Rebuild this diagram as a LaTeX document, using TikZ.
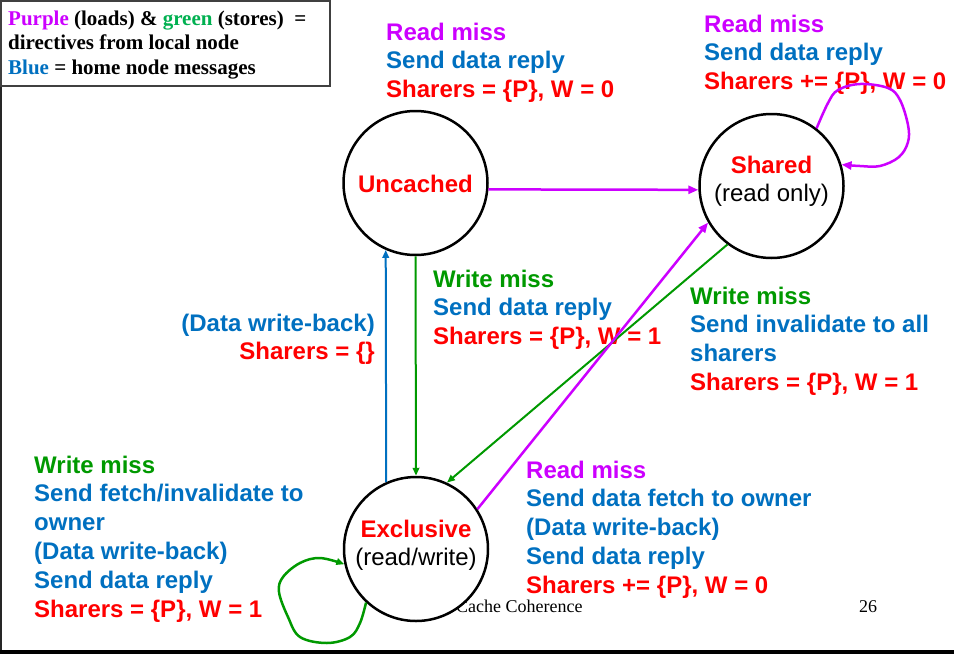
\documentclass[tikz,border=0pt]{standalone}
\usepackage{fontspec}
\setmainfont{Liberation Serif}
\newfontfamily\arialf{Liberation Sans}
\usetikzlibrary{arrows.meta}
\definecolor{cpurple}{RGB}{204,0,255}
\definecolor{cblue}{RGB}{0,112,192}
\definecolor{cred}{RGB}{255,0,0}
\definecolor{cgreen}{RGB}{0,153,0}
\definecolor{lgreen}{RGB}{0,176,80}
\newcommand\labfont{\arialf\bfseries\fontsize{24}{28.8}\selectfont}
\newcommand\plainfont{\arialf\fontsize{24}{28.8}\selectfont}
\newcommand\legfont{\bfseries\fontsize{21}{24.5}\selectfont}
\newcommand\footfont{\fontsize{18}{21}\selectfont}
\newcommand\blockL[1]{\begin{tabular}[t]{@{}l@{}}#1\end{tabular}}
\newcommand\blockR[1]{\begin{tabular}[t]{@{}r@{}}#1\end{tabular}}
\newcommand\blockC[1]{\begin{tabular}[t]{@{}c@{}}#1\end{tabular}}
\begin{document}
\begin{tikzpicture}[x=1pt,y=-1pt,
  lbl/.style={anchor=base west, inner sep=0pt, font=\labfont},
  lblr/.style={anchor=base east, inner sep=0pt, font=\labfont},
  state/.style={circle, draw, line width=2.5pt, fill=white, minimum size=144pt, inner sep=0pt},
  stname/.style={anchor=base, inner sep=0pt, font=\plainfont},
  tip/.style={-{Triangle[length=10pt,width=8pt]}},
  smalltip/.style={-{Triangle[length=8pt,width=6.5pt]}},
  pline/.style={draw=cpurple, line width=2.5pt, tip},
  gline/.style={draw=cgreen, line width=2pt, smalltip},
  bline/.style={draw=cblue, line width=2pt, smalltip}]
\useasboundingbox (0,0) rectangle (954,654);

% slide frame
\draw[line width=1.5pt, black!85] (1,86) -- (1,650);
\draw[line width=4pt] (0,652) -- (954,652);

% legend
\draw[line width=1.5pt, black!75] (0.75,0.75) rectangle (330,86);
\node[anchor=base west, inner sep=0pt, font=\legfont] (legend) at (8,25)
  {\blockL{\textcolor{cpurple}{Purple} (loads) \& \textcolor{lgreen}{green} (stores)~ =\\
   directives from local node\\
   \textcolor{cblue}{Blue} = home node messages}};

% transition labels
\node[lbl] (lUS) at (386,40)
  {\blockL{\color{cpurple}Read miss\\ \color{cblue}Send data reply\\ \color{cred}Sharers = \{P\}, W = 0}};
\node[lbl] (lSS) at (704,32)
  {\blockL{\color{cpurple}Read miss\\ \color{cblue}Send data reply\\ \color{cred}Sharers += \{P\}, W = 0}};
\node[lbl] (lUE) at (433,287)
  {\blockL{\color{cgreen}Write miss\\ \color{cblue}Send data reply\\ \color{cred}Sharers = \{P\}, W = 1}};
\node[lblr] (lEU) at (375,331)
  {\blockR{\color{cblue}(Data write-back)\\ \color{cred}Sharers = \{\}}};
\node[lbl] (lSE) at (690,304)
  {\blockL{\color{cgreen}Write miss\\ \color{cblue}Send invalidate to all\\ \color{cblue}sharers\\ \color{cred}Sharers = \{P\}, W = 1}};
\node[lbl] (lEE) at (34,473)
  {\blockL{\color{cgreen}Write miss\\ \color{cblue}Send fetch/invalidate to\\ \color{cblue}owner\\
   \color{cblue}(Data write-back)\\ \color{cblue}Send data reply\\ \color{cred}Sharers = \{P\}, W = 1}};
\node[lbl] (lES) at (526,478)
  {\blockL{\color{cpurple}Read miss\\ \color{cblue}Send data fetch to owner\\ \color{cblue}(Data write-back)\\
   \color{cblue}Send data reply\\ \color{cred}Sharers += \{P\}, W = 0}};

% footer
\node[anchor=base west, inner sep=0pt, font=\footfont] (foot) at (456,612) {Cache Coherence};
\node[anchor=base west, inner sep=0pt, font=\footfont] (page) at (859,612) {26};

% states
\node[state] (unc) at (415.5,183) {};
\node[state] (shr) at (771.5,186) {};
\node[state] (exc) at (416,549) {};
\node[stname] (uncT) at (415.5,192) {\textcolor{cred}{\bfseries Uncached}};
\node[stname] (shrT) at (771.5,173) {\blockC{\color{cred}\bfseries Shared\\ (read only)}};
\node[stname] (excT) at (416,537) {\blockC{\color{cred}\bfseries Exclusive\\ (read/write)}};

% transitions
\draw[pline] (unc.-5.5) -- (shr.183);
\draw[bline] (exc.114) -- (unc.246);
\draw[gline] (unc.270) -- (exc.90);
\draw[gline] (shr.233) -- (exc.65.5);
\draw[pline] (exc.33) -- (shr.210);

% self loops
\draw[pline] plot[smooth, tension=0.6] coordinates {(shr.52) (828,103) (838,90) (860,84) (888,88)
  (900,100) (908,125) (908,142) (899,157) (880,166) (860,166) (shr.17)};
\draw[draw=cgreen, line width=2.5pt, smalltip] plot[smooth, tension=0.6] coordinates {(exc.227) (360,623)
  (350,637) (327,643) (300,637) (288,617) (279,592) (283,577) (300,563) (320,558) (exc.192)};
\end{tikzpicture}
\end{document}
